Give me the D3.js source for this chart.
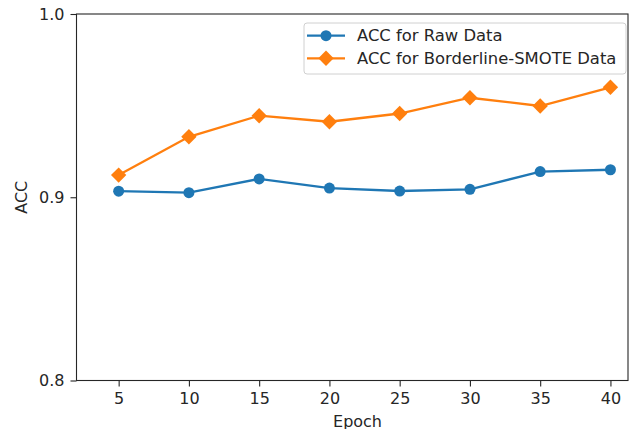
<!DOCTYPE html>
<html>
<head>
<meta charset="utf-8">
<script src="https://cdn.jsdelivr.net/npm/d3@7"></script>
<style>
  body { margin: 0; background: #fff; }
  text { font-family: "DejaVu Sans", sans-serif; fill: #262626; }
</style>
</head>
<body>
<div id="chart"></div>
<script>
// Data
const epochs = [5, 10, 15, 20, 25, 30, 35, 40]
const accRaw = [0.9033, 0.9025, 0.9100, 0.9050, 0.9034, 0.9043, 0.9140, 0.9150]
const accSmote = [0.9121, 0.9330, 0.9445, 0.9412, 0.9457, 0.9543, 0.9498, 0.9600]
const seriesNames = ["ACC for Raw Data", "ACC for Borderline-SMOTE Data"]
const yTicks = [0.8, 0.9, 1.0]

const W = 629, H = 429
const margin = {top: 14, right: 1, bottom: 48.5, left: 76.5}
const width = W - margin.left - margin.right
const height = H - margin.top - margin.bottom
const fs = 16

const svg = d3.select("#chart").append("svg")
    .attr("width", W)
    .attr("height", H)
  .append("g")
    .attr("transform", "translate(" + margin.left + "," + margin.top + ")")

const x = d3.scaleLinear().domain([2, 41.25]).range([0, width])
const y = d3.scaleLinear().domain([0.8, 1.0]).range([height, 0])

// axes
const xAxis = svg.append("g")
    .attr("transform", "translate(0," + height + ")")
    .call(d3.axisBottom(x).tickValues(epochs).tickSize(6).tickPadding(6).tickFormat(d3.format("d")))
const yAxis = svg.append("g")
    .call(d3.axisLeft(y).tickValues(yTicks).tickSize(6).tickPadding(6).tickFormat(d3.format(".1f")))
;[xAxis, yAxis].forEach(g => {
  g.select(".domain").remove()
  g.selectAll("text").attr("font-size", fs).attr("font-family", "DejaVu Sans").attr("fill", "#262626")
  g.selectAll("line").attr("stroke", "#262626").attr("stroke-width", 1.1)
})

// frame (spines)
svg.append("rect")
    .attr("x", 0).attr("y", 0)
    .attr("width", width).attr("height", height)
    .attr("fill", "none").attr("stroke", "#262626").attr("stroke-width", 1.1)

svg.append("text")
    .attr("x", x(22)).attr("y", height + 46)
    .attr("text-anchor", "middle").attr("font-size", fs)
    .text("Epoch")
svg.append("text")
    .attr("transform", "translate(" + (-50) + "," + (height / 2) + ") rotate(-90)")
    .attr("text-anchor", "middle").attr("font-size", fs)
    .text("ACC")

const colors = ["#1f77b4", "#ff7f0e"]
const line = d3.line().x(d => x(d[0])).y(d => y(d[1]))
const circle = d3.symbol().type(d3.symbolCircle).size(Math.PI * 5.5 * 5.5)
const diamond = d3.symbol().type(d3.symbolSquare).size(118)

const series = [accRaw, accSmote].map(vals => epochs.map((e, i) => [e, vals[i]]))

series.forEach((pts, si) => {
  svg.append("path")
      .datum(pts)
      .attr("fill", "none")
      .attr("stroke", colors[si])
      .attr("stroke-width", 2.3)
      .attr("d", line)
  svg.selectAll(".m" + si)
    .data(pts)
    .enter().append("path")
      .attr("class", "m" + si)
      .attr("transform", d => "translate(" + x(d[0]) + "," + y(d[1]) + ")" + (si === 1 ? " rotate(45)" : ""))
      .attr("d", si === 1 ? diamond : circle)
      .attr("fill", colors[si])
})

// legend
const lg = svg.append("g").attr("transform", "translate(" + (304 - margin.left) + "," + (23 - margin.top) + ")")
lg.append("rect")
    .attr("width", 322).attr("height", 51)
    .attr("rx", 3)
    .attr("fill", "#fff").attr("fill-opacity", 0.8)
    .attr("stroke", "#d0d0d0")
seriesNames.forEach((name, i) => {
  const row = lg.append("g").attr("transform", "translate(0," + (12.7 + i * 22.6) + ")")
  row.append("line")
      .attr("x1", 3).attr("x2", 41)
      .attr("stroke", colors[i]).attr("stroke-width", 2.3)
  row.append("path")
      .attr("transform", "translate(22,0)" + (i === 1 ? " rotate(45)" : ""))
      .attr("d", i === 1 ? diamond() : circle())
      .attr("fill", colors[i])
  row.append("text")
      .attr("x", 53).attr("dy", "0.35em")
      .attr("font-size", 16.4)
      .text(name)
})
</script>
</body>
</html>
